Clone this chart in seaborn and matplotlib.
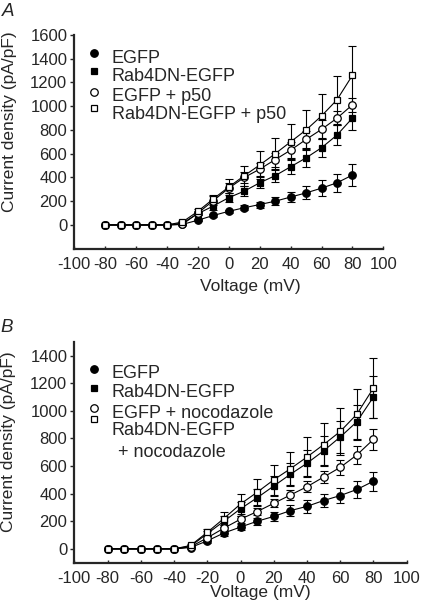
import numpy as np
import pandas as pd
import matplotlib
matplotlib.use("Agg")
import matplotlib.pyplot as plt
import seaborn as sns

# Voltage steps (mV)
voltage = [-80, -70, -60, -50, -40, -30, -20, -10, 0, 10, 20, 30, 40, 50, 60, 70, 80]

# Panel A: current density (pA/pF), mean and SEM
egfp_a = [0, 0, 0, 0, 0, 5, 40, 80, 115, 145, 172, 200, 235, 270, 310, 355, 420]
egfp_a_err = [0, 0, 0, 0, 0, 5, 10, 15, 15, 20, 25, 35, 45, 55, 65, 75, 90]
rab_a = [0, 0, 0, 0, 0, 15, 95, 160, 230, 285, 355, 415, 490, 565, 650, 757, 900]
rab_a_err = [0, 0, 0, 0, 0, 5, 15, 30, 35, 40, 45, 50, 65, 75, 77, 85, 100]
egfp_p50_a = [0, 0, 0, 0, 0, 5, 100, 205, 310, 400, 470, 550, 630, 720, 805, 899, 1012]
egfp_p50_a_err = [0, 0, 0, 0, 0, 5, 20, 35, 45, 50, 55, 60, 65, 70, 80, 57, 57]
rab_p50_a = [0, 0, 0, 0, 0, 25, 115, 220, 320, 415, 505, 600, 700, 800, 918, 1054, 1260]
rab_p50_a_err = [0, 0, 0, 0, 0, 10, 20, 35, 65, 85, 115, 130, 150, 165, 185, 204, 246]

# Panel B
egfp_b = [0, 0, 0, 0, 0, 10, 58, 115, 158, 200, 235, 277, 308, 350, 386, 430, 490]
egfp_b_err = [0, 0, 0, 0, 0, 5, 15, 20, 20, 25, 30, 40, 45, 50, 55, 60, 70]
rab_b = [0, 0, 0, 0, 0, 20, 110, 200, 290, 370, 455, 540, 620, 710, 810, 920, 1100]
rab_b_err = [0, 0, 0, 0, 0, 5, 20, 40, 50, 60, 70, 80, 95, 105, 115, 125, 150]
egfp_noc_b = [0, 0, 0, 0, 0, 15, 80, 150, 215, 270, 330, 390, 450, 520, 590, 680, 793]
egfp_noc_b_err = [0, 0, 0, 0, 0, 5, 15, 20, 25, 25, 30, 35, 40, 45, 55, 65, 76]
rab_noc_b = [0, 0, 0, 0, 0, 25, 120, 220, 325, 410, 500, 580, 665, 755, 850, 975, 1165]
rab_noc_b_err = [0, 0, 0, 0, 0, 10, 25, 50, 70, 95, 110, 125, 145, 155, 170, 185, 214]

labels_a = ["EGFP", "Rab4DN-EGFP", "EGFP + p50", "Rab4DN-EGFP + p50"]
labels_b = ["EGFP", "Rab4DN-EGFP", "EGFP + nocodazole", "Rab4DN-EGFP", "+ nocodazole"]

# marker, face colour per series (same order in both panels)
styles = [("o", "black"), ("s", "black"), ("o", "white"), ("s", "white")]
msize = {"o": 5.4, "s": 5.0}

sns.set_style("ticks")
plt.rcParams["font.family"] = ["Liberation Sans", "DejaVu Sans"]
plt.rcParams["axes.unicode_minus"] = False
fs_tick, fs_lab, fs_leg, fs_panel = 12, 12.5, 13, 13.5

W, H = 426, 612
fig = plt.figure(figsize=(W / 100, H / 100), dpi=100)


def add_ax(x0, x1, ytop, ybot):
    return fig.add_axes([x0 / W, 1 - ybot / H, (x1 - x0) / W, (ybot - ytop) / H])


def ftext(x, y, s, **kw):
    fig.text(x / W, 1 - y / H, s, **kw)


def draw_panel(ax, series, ylim, yticks):
    for i, (vals, errs) in enumerate(series):
        ax.errorbar(voltage, vals, yerr=errs, fmt="none", ecolor="black",
                    elinewidth=0.8, capsize=2.6, capthick=0.8, zorder=2 + i)
    for i, (vals, errs) in enumerate(series):
        m, fc = styles[i]
        df = pd.DataFrame({"v": voltage, "i": vals})
        sns.lineplot(data=df, x="v", y="i", ax=ax, color="black", linewidth=0.8,
                     marker=m, markersize=msize[m],
                     markerfacecolor=fc, markeredgecolor="black",
                     markeredgewidth=0.9, zorder=6 + i)
    ax.set_xlim(-100, 100)
    ax.set_ylim(*ylim)
    ax.set_xticks(range(-100, 101, 20))
    ax.set_yticks(yticks)
    ax.set_xlabel("")
    ax.set_ylabel("")
    sns.despine(ax=ax)
    for sp in ("left", "bottom"):
        ax.spines[sp].set_linewidth(1.6)
    ax.tick_params(axis="y", direction="out", length=3, width=1, pad=2,
                   labelsize=fs_tick)
    ax.tick_params(axis="x", direction="in", length=2.5, width=1, pad=6,
                   labelsize=fs_tick)


def draw_legend(ax, labels, mk_x, mk_y, tx_x, tx_y):
    for i, lab in enumerate(labels):
        if i < len(mk_y):
            m, fc = styles[i]
            ax.plot([mk_x], [mk_y[i]], marker=m, markersize=msize[m],
                    markerfacecolor=fc, markeredgecolor="black",
                    markeredgewidth=0.9, linestyle="none",
                    transform=ax.transAxes, clip_on=False)
        ax.text(tx_x[i], tx_y[i], lab, transform=ax.transAxes, fontsize=fs_leg,
                va="center", ha="left")


# Panel A
axA = add_ax(74.3, 383.3, 35, 248.7)
draw_panel(axA,
           [(egfp_a, egfp_a_err), (rab_a, rab_a_err),
            (egfp_p50_a, egfp_p50_a_err), (rab_p50_a, rab_p50_a_err)],
           (-200, 1600), range(0, 1601, 200))
draw_legend(axA, labels_a, 0.064, [0.914, 0.833, 0.733, 0.658],
            [0.122] * 4, [0.888, 0.804, 0.710, 0.626])

# Panel B
axB = add_ax(74.3, 406.7, 341.7, 562.7)
draw_panel(axB,
           [(egfp_b, egfp_b_err), (rab_b, rab_b_err),
            (egfp_noc_b, egfp_noc_b_err), (rab_noc_b, rab_noc_b_err)],
           (-100, 1500), range(0, 1401, 200))
draw_legend(axB, labels_b, 0.060, [0.875, 0.789, 0.699, 0.649],
            [0.1125] * 4 + [0.131], [0.854, 0.768, 0.677, 0.596, 0.497])

# Panel letters and axis titles
ftext(8, 11, "A", fontsize=fs_panel, style="italic", ha="center", va="center")
ftext(7, 328, "B", fontsize=fs_panel, style="italic", ha="center", va="center")
ftext(10, 122, "Current density (pA/pF)", fontsize=fs_lab, rotation=90,
      ha="center", va="center")
ftext(9, 442, "Current density (pA/pF)", fontsize=fs_lab, rotation=90,
      ha="center", va="center")
ftext(250, 287, "Voltage (mV)", fontsize=fs_lab, ha="center", va="center")
ftext(260, 593, "Voltage (mV)", fontsize=fs_lab, ha="center", va="center")

fig.savefig("out.png", dpi=100)
